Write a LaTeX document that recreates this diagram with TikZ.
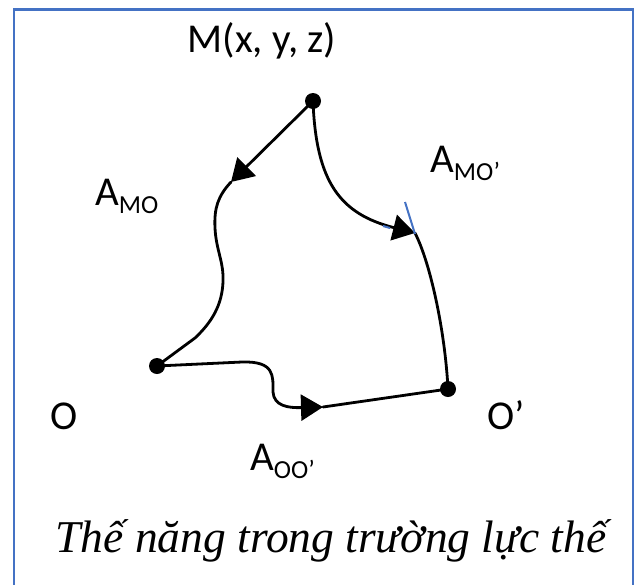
\documentclass[tikz,border=0pt]{standalone}
\usepackage{fontspec}
\setmainfont{Carlito}
\newfontfamily\capfont{Liberation Serif}
\usetikzlibrary{arrows.meta}
\definecolor{frameblue}{HTML}{4472C4}
\tikzset{
  curveline/.style={line width=2.8pt, line cap=round, black},
  arr/.style={curveline, -{Triangle[length=22pt,width=26pt]}},
  dotnode/.style={circle, fill=black, inner sep=0pt, minimum size=16pt},
  lbl/.style={font=\fontsize{41}{46}\selectfont, inner sep=0pt, anchor=base west},
}
\newcommand{\subs}[1]{\raisebox{-0.2em}{\fontsize{26}{30}\selectfont #1}}
\begin{document}
\begin{tikzpicture}[x=1pt,y=-1pt]
\useasboundingbox (0,0) rectangle (640,584);
\fill[white] (0,0) rectangle (640,584);
\draw[frameblue, line width=2.5pt] (14,590) -- (14,9.5) -- (633,9.5) -- (633,590);
% points
\node[dotnode] (M) at (313,101) {};
\node[dotnode] (O) at (157,366) {};
\node[dotnode] (Op) at (448,389) {};
\coordinate (T1) at (231,182);
\coordinate (T2) at (415,233);
\coordinate (T3) at (323,407);
% M -> O
\draw[arr] (M.center) -- (T1);
\draw[curveline] (T1) .. controls (218,196) and (214,208) .. (215,228)
  .. controls (216,250) and (224,262) .. (223,282)
  .. controls (222,305) and (212,322) .. (195,338)
  -- (O.center);
% M -> O'
\draw[arr] (M.center) .. controls (316,182) and (340,214) .. (T2);
\draw[curveline] (T2) .. controls (430,262) and (445,330) .. (Op.center);
% O -> O'
\draw[arr] (O.center) -- (242,362) .. controls (275,361) and (273,376) .. (273,392)
  .. controls (274,406) and (288,408) .. (T3);
\draw[curveline] (T3) -- (Op.center);
% blue tangent
\draw[frameblue, line width=2pt] (405,202) -- (415,234);
\draw[frameblue, line width=2pt] (383,226) -- (390,228);
% labels
\node[lbl, anchor=base] (Mlbl) at (262,52) {M(x, y, z)};
\node[lbl] (AMO) at (95,205) {A\subs{MO}};
\node[lbl] (AMOp) at (430,172) {A\subs{MO’}};
\node[lbl] (AOOp) at (250,470) {A\subs{OO’}};
\node[lbl] (Olbl) at (50,429) {O};
\node[lbl] (Oplbl) at (487,429) {O’};
\node[inner sep=0pt, anchor=base] (cap) at (331,552) {\capfont\itshape\fontsize{45.5}{52}\selectfont Thế năng trong trường lực thế};
\end{tikzpicture}
\end{document}
